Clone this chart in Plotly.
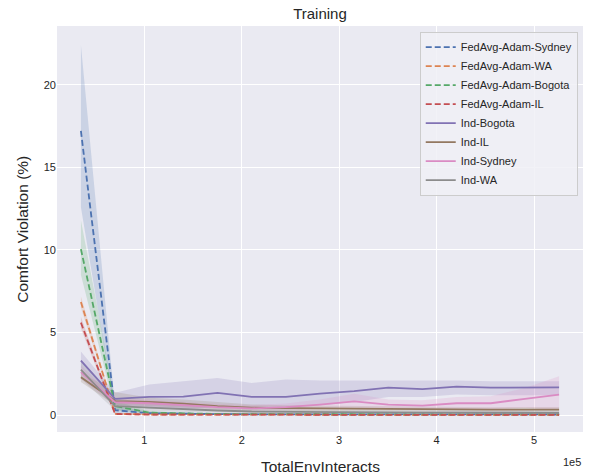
import plotly.graph_objects as go

# steps on the x axis (TotalEnvInteracts)
x_steps = [35040, 70080, 105120, 140160, 175200, 210240, 245280, 280320,
           315360, 350400, 385440, 420480, 455520, 490560, 525600]

fed_sydney = [17.2, 0.30, 0.12, 0.08, 0.06, 0.05, 0.05, 0.04, 0.04, 0.04, 0.04, 0.04, 0.04, 0.04, 0.04]
fed_sydney_lo = [12.6, 0.12, 0.05, 0.03, 0.02, 0.02, 0.02, 0.01, 0.01, 0.01, 0.01, 0.01, 0.01, 0.01, 0.01]
fed_sydney_hi = [22.4, 0.55, 0.22, 0.15, 0.11, 0.09, 0.09, 0.08, 0.08, 0.08, 0.08, 0.08, 0.08, 0.08, 0.08]

fed_wa = [6.85, 0.08, 0.04, 0.03, 0.03, 0.02, 0.02, 0.02, 0.02, 0.02, 0.02, 0.02, 0.02, 0.02, 0.02]
fed_wa_lo = [6.5, 0.03, 0.01, 0.01, 0.01, 0.0, 0.0, 0.0, 0.0, 0.0, 0.0, 0.0, 0.0, 0.0, 0.0]
fed_wa_hi = [7.2, 0.15, 0.08, 0.06, 0.05, 0.05, 0.05, 0.05, 0.05, 0.05, 0.05, 0.05, 0.05, 0.05, 0.05]

fed_bogota = [10.05, 0.55, 0.15, 0.09, 0.07, 0.06, 0.05, 0.05, 0.05, 0.05, 0.05, 0.05, 0.05, 0.05, 0.05]
fed_bogota_lo = [8.5, 0.3, 0.07, 0.04, 0.03, 0.02, 0.02, 0.02, 0.02, 0.02, 0.02, 0.02, 0.02, 0.02, 0.02]
fed_bogota_hi = [11.8, 0.85, 0.25, 0.15, 0.12, 0.1, 0.09, 0.09, 0.09, 0.09, 0.09, 0.09, 0.09, 0.09, 0.09]

fed_il = [5.6, 0.07, 0.04, 0.03, 0.02, 0.02, 0.02, 0.02, 0.02, 0.02, 0.02, 0.02, 0.02, 0.02, 0.02]
fed_il_lo = [5.25, 0.03, 0.01, 0.01, 0.0, 0.0, 0.0, 0.0, 0.0, 0.0, 0.0, 0.0, 0.0, 0.0, 0.0]
fed_il_hi = [5.95, 0.13, 0.07, 0.05, 0.05, 0.04, 0.04, 0.04, 0.04, 0.04, 0.04, 0.04, 0.04, 0.04, 0.04]

ind_bogota = [3.3, 0.99, 1.1, 1.12, 1.35, 1.1, 1.1, 1.3, 1.45, 1.66, 1.57, 1.72, 1.66, 1.66, 1.68]
ind_bogota_lo = [2.85, 0.65, 0.4, 0.35, 0.5, 0.5, 0.5, 0.6, 0.8, 1.1, 1.1, 1.25, 1.2, 1.2, 1.2]
ind_bogota_hi = [3.85, 1.35, 1.85, 2.05, 2.25, 1.95, 2.15, 2.1, 2.1, 2.1, 2.1, 2.1, 2.05, 2.05, 2.05]

ind_il = [2.3, 0.85, 0.8, 0.7, 0.55, 0.45, 0.42, 0.4, 0.38, 0.36, 0.33, 0.32, 0.33, 0.33, 0.33]
ind_il_lo = [2.0, 0.6, 0.55, 0.45, 0.35, 0.28, 0.25, 0.25, 0.23, 0.22, 0.2, 0.2, 0.2, 0.2, 0.2]
ind_il_hi = [2.6, 1.4, 1.05, 0.95, 0.8, 0.65, 0.6, 0.58, 0.55, 0.52, 0.5, 0.48, 0.48, 0.5, 0.5]

ind_sydney = [2.6, 0.78, 0.72, 0.6, 0.48, 0.41, 0.48, 0.64, 0.83, 0.64, 0.58, 0.72, 0.72, 0.99, 1.24]
ind_sydney_lo = [2.2, 0.55, 0.5, 0.4, 0.3, 0.25, 0.3, 0.35, 0.45, 0.35, 0.3, 0.35, 0.35, 0.45, 0.3]
ind_sydney_hi = [3.0, 1.0, 0.95, 0.8, 0.68, 0.6, 0.7, 0.95, 1.3, 0.95, 0.9, 1.1, 1.15, 1.65, 2.35]

ind_wa = [2.75, 0.55, 0.45, 0.35, 0.28, 0.22, 0.2, 0.18, 0.16, 0.15, 0.15, 0.15, 0.14, 0.14, 0.14]
ind_wa_lo = [2.2, 0.3, 0.25, 0.2, 0.15, 0.1, 0.1, 0.08, 0.07, 0.07, 0.07, 0.07, 0.06, 0.06, 0.06]
ind_wa_hi = [3.35, 1.0, 0.75, 0.6, 0.45, 0.38, 0.33, 0.3, 0.28, 0.26, 0.26, 0.26, 0.25, 0.25, 0.25]

tick_vals = [100000, 200000, 300000, 400000, 500000]
tick_text = ["1", "2", "3", "4", "5"]

# name, mean, lo, hi, color (seaborn deep), dash
series = [
    ("FedAvg-Adam-Sydney", fed_sydney, fed_sydney_lo, fed_sydney_hi, (76, 114, 176), "6px,3px"),
    ("FedAvg-Adam-WA", fed_wa, fed_wa_lo, fed_wa_hi, (221, 132, 82), "6px,3px"),
    ("FedAvg-Adam-Bogota", fed_bogota, fed_bogota_lo, fed_bogota_hi, (85, 168, 104), "6px,3px"),
    ("FedAvg-Adam-IL", fed_il, fed_il_lo, fed_il_hi, (196, 78, 82), "6px,3px"),
    ("Ind-Bogota", ind_bogota, ind_bogota_lo, ind_bogota_hi, (129, 114, 179), "solid"),
    ("Ind-IL", ind_il, ind_il_lo, ind_il_hi, (147, 120, 96), "solid"),
    ("Ind-Sydney", ind_sydney, ind_sydney_lo, ind_sydney_hi, (218, 139, 195), "solid"),
    ("Ind-WA", ind_wa, ind_wa_lo, ind_wa_hi, (140, 140, 140), "solid"),
]

fig = go.Figure()

# confidence bands first
for name, mean, lo, hi, c, dash in series:
    fig.add_trace(go.Scatter(x=x_steps, y=hi, mode="lines", line=dict(width=0),
                             showlegend=False, hoverinfo="skip"))
    fig.add_trace(go.Scatter(x=x_steps, y=lo, mode="lines", line=dict(width=0),
                             fill="tonexty", fillcolor="rgba(%d,%d,%d,0.2)" % c,
                             showlegend=False, hoverinfo="skip"))

for name, mean, lo, hi, c, dash in series:
    fig.add_trace(go.Scatter(x=x_steps, y=mean, mode="lines", name=name,
                             line=dict(color="rgb(%d,%d,%d)" % c, width=1.8, dash=dash)))

fig.update_layout(
    width=596,
    height=475,
    margin=dict(l=57, r=13, t=26, b=43, autoexpand=False),
    paper_bgcolor="white",
    plot_bgcolor="#EAEAF2",
    font=dict(family="Liberation Sans, Arial, sans-serif", size=11, color="#262626"),
    title=dict(text="Training", x=0.5, xref="paper", xanchor="center",
               y=1 - 14 / 475, yref="container", yanchor="middle",
               font=dict(size=15, color="#262626")),
    legend=dict(
        x=0.99, xanchor="right", y=0.986, yanchor="top", traceorder="normal",
        bgcolor="rgba(240,240,246,0.85)", bordercolor="#CCCCCC", borderwidth=1,
        font=dict(size=11), tracegroupgap=0,
    ),
    showlegend=True,
)

fig.update_xaxes(
    range=[10512, 550128], tickvals=tick_vals, ticktext=tick_text,
    showgrid=True, gridcolor="white", gridwidth=1.3, zeroline=False,
    showline=False, ticks="", automargin=False,
)
fig.update_yaxes(
    range=[-1.02, 23.55], tickvals=[0, 5, 10, 15, 20],
    showgrid=True, gridcolor="white", gridwidth=1.3, zeroline=False,
    showline=False, ticks="", automargin=False,
)

# axis titles and the offset label, placed like matplotlib does
fig.add_annotation(text="TotalEnvInteracts", xref="paper", yref="paper", x=0.5, y=-0.085,
                   xanchor="center", yanchor="middle", showarrow=False,
                   font=dict(size=15.5, color="#262626"))
fig.add_annotation(text="Comfort Violation (%)", xref="paper", yref="paper", x=-0.067, y=0.5,
                   xanchor="center", yanchor="middle", textangle=-90, showarrow=False,
                   font=dict(size=15.5, color="#262626"))
fig.add_annotation(text="1e5", xref="paper", yref="paper", x=1.0, y=-0.073,
                   xanchor="right", yanchor="middle", showarrow=False,
                   font=dict(size=11, color="#262626"))

# the page's default body margin would shift the whole figure by 8px
fig.write_html("out.html", config={"displayModeBar": False},
               post_script="document.body.style.margin='0';")
